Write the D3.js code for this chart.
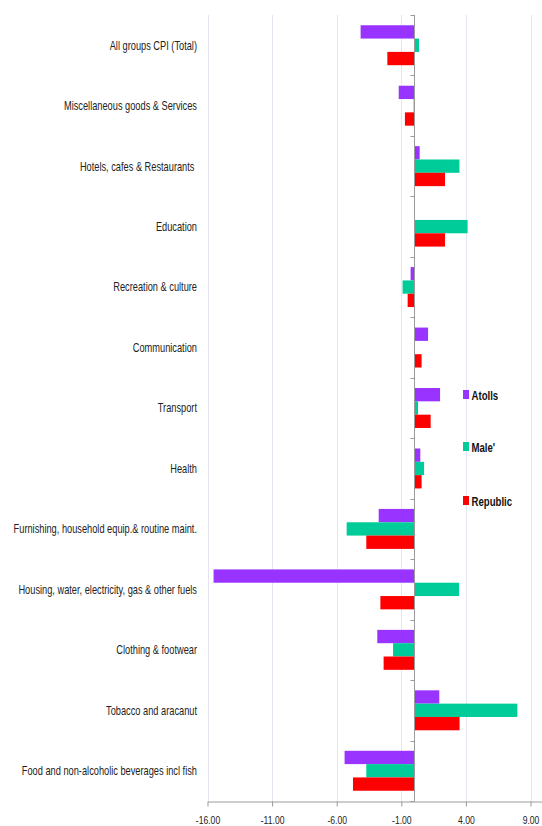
<!DOCTYPE html>
<html>
<head>
<meta charset="utf-8">
<script src="https://cdn.jsdelivr.net/npm/d3@7"></script>
<style>
  html, body { margin: 0; padding: 0; background: #fff; }
  svg { display: block; }
  .cat { font-family: "Liberation Sans", Arial, sans-serif; font-size: 12.5px; fill: #222; }
  .tick-label { font-family: "Liberation Sans", Arial, sans-serif; font-size: 11px; fill: #222; }
  .legend { font-family: "Liberation Sans", Arial, sans-serif; font-size: 13px; font-weight: bold; fill: #111; }
</style>
</head>
<body>
<svg id="chart" width="542" height="826"></svg>
<script>
// CPI change by commodity group, top to bottom
const categories = [
  "All groups CPI (Total)",
  "Miscellaneous goods & Services",
  "Hotels, cafes & Restaurants ",
  "Education",
  "Recreation & culture",
  "Communication",
  "Transport",
  "Health",
  "Furnishing, household equip.& routine maint.",
  "Housing, water, electricity, gas & other fuels",
  "Clothing & footwear",
  "Tobacco and aracanut",
  "Food and non-alcoholic beverages incl fish"
];

const seriesNames = ["Atolls", "Male'", "Republic"];
const seriesColors = ["#9933FF", "#00CC99", "#FF0000"];

const atolls   = [-4.15, -1.20, 0.42, 0.00, -0.28, 1.07, 2.00, 0.47, -2.75, -15.53, -2.86, 1.94, -5.39];
const male     = [ 0.37, -0.05, 3.50, 4.13, -0.90, 0.00, 0.29, 0.76, -5.23,   3.47, -1.64, 7.98, -3.71];
const republic = [-2.08, -0.72, 2.38, 2.38, -0.51, 0.57, 1.27, 0.57, -3.71,  -2.62, -2.37, 3.51, -4.74];

const tickValues = [-16, -11, -6, -1, 4, 9];

const seriesValues = [atolls, male, republic];

// horizontal squeeze giving the narrow lettering
const narrow = 0.74;

const svg = d3.select("#chart");

const plotTop = 15, plotBottom = 801;
const x = d3.scaleLinear().domain([-16, 10.5]).range([207.5, 549.9]);
const y0 = d3.scaleBand().domain(categories).range([plotTop, plotBottom]).paddingInner(0);
const y1 = d3.scaleBand().domain(seriesNames).range([0, y0.bandwidth()]).paddingInner(0).paddingOuter(0.77);

// vertical gridlines
svg.append("g")
  .selectAll("line")
  .data(tickValues)
  .join("line")
  .attr("x1", d => Math.round(x(d)) + 0.5)
  .attr("x2", d => Math.round(x(d)) + 0.5)
  .attr("y1", plotTop)
  .attr("y2", plotBottom)
  .attr("stroke", "#e3e6f0")
  .attr("stroke-width", 1);

// bars
const rows = categories.map((c, i) => ({ cat: c, vals: seriesValues.map((s, j) => ({ name: seriesNames[j], v: s[i], color: seriesColors[j] })) }));

const groups = svg.append("g")
  .selectAll("g")
  .data(rows)
  .join("g")
  .attr("transform", d => `translate(0,${y0(d.cat)})`);

groups.selectAll("rect")
  .data(d => d.vals)
  .join("rect")
  .attr("x", d => x(Math.min(0, d.v)))
  .attr("width", d => Math.abs(x(d.v) - x(0)))
  .attr("y", d => y1(d.name))
  .attr("height", y1.bandwidth())
  .attr("fill", d => d.color);

// bottom axis
const xAxis = d3.axisBottom(x)
  .tickValues(tickValues)
  .tickFormat(d3.format(".2f"))
  .tickSize(5)
  .tickSizeOuter(0);

const gx = svg.append("g")
  .attr("transform", `translate(0,${plotBottom + 0.5})`)
  .call(xAxis);
gx.select(".domain").attr("stroke", "#9a9a9a");
gx.selectAll(".tick line").attr("stroke", "#9a9a9a");
gx.selectAll(".tick text")
  .attr("class", "tick-label")
  .attr("y", 0)
  .attr("dy", null)
  .attr("transform", `translate(0,22) scale(${narrow + 0.04},1)`)
  .text(d => d3.format(".2f")(d).replace("−", "-"));

// category axis on the zero line
const zx = Math.round(x(0)) + 0.5;
const gy = svg.append("g").attr("transform", `translate(${zx},0)`);
gy.append("line")
  .attr("y1", plotTop).attr("y2", plotBottom)
  .attr("stroke", "#9a9a9a");
gy.selectAll(".boundary")
  .data(categories.map(c => y0(c)).concat([plotBottom]))
  .join("line")
  .attr("class", "boundary")
  .attr("x1", -4).attr("x2", 0)
  .attr("y1", d => Math.round(d) + 0.5).attr("y2", d => Math.round(d) + 0.5)
  .attr("stroke", "#9a9a9a");

// category labels
svg.append("g")
  .selectAll("text")
  .data(categories)
  .join("text")
  .attr("class", "cat")
  .attr("transform", d => `translate(197,${y0(d) + y0.bandwidth() / 2}) scale(${narrow},1)`)
  .attr("dy", "0.35em")
  .attr("text-anchor", "end")
  .attr("xml:space", "preserve")
  .style("white-space", "pre")
  .text(d => d);

// legend
const legendY = [395, 447, 501];
const lg = svg.append("g")
  .selectAll("g")
  .data(seriesNames)
  .join("g")
  .attr("transform", (d, i) => `translate(463,${legendY[i]})`);
lg.append("rect")
  .attr("x", 0).attr("y", -5)
  .attr("width", 6).attr("height", 9)
  .attr("fill", (d, i) => seriesColors[i]);
lg.append("text")
  .attr("class", "legend")
  .attr("transform", `translate(8.5,0) scale(${narrow},1)`)
  .attr("dy", "0.35em")
  .text(d => d);
</script>
</body>
</html>
